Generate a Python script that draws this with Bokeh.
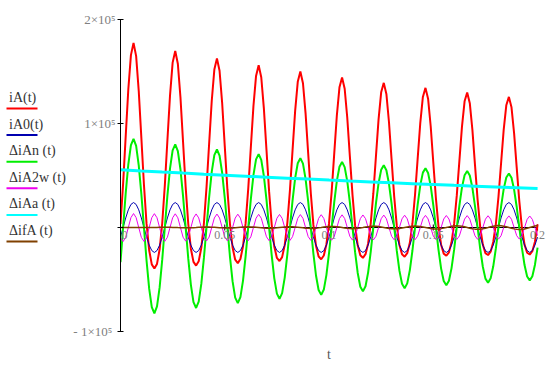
from bokeh.plotting import figure
from bokeh.models import Range1d, FixedTicker, LinearAxis
from bokeh.layouts import row
from bokeh.core.properties import value
from bokeh.embed import file_html
from bokeh.resources import INLINE

# ---------------- data (values in A) ----------------
T_STEP = 0.00125
t = [round(i * T_STEP, 5) for i in range(161)]

iA = [
    3450, 41900, 87950, 132900, 165760, 177520, 164760, 131260, 86270, 40820, 3470, -21860, -35460, -39450, -35000, -21200,
    3810, 40220, 84090, 127060, 158550, 169770, 157460, 125250, 82150, 38780, 3370, -20410, -33020, -36640, -32460, -19540,
    4050, 38620, 80500, 121670, 151870, 162610, 150710, 119690, 78300, 36830, 3170, -19230, -30960, -34240, -30280, -18140,
    4170, 37100, 77190, 116700, 145730, 156020, 144470, 114530, 74700, 34940, 2860, -18300, -29250, -32230, -28460, -16980,
    4210, 35660, 74100, 112110, 140070, 149930, 138720, 109770, 71350, 33140, 2480, -17600, -27840, -30550, -26940, -16050,
    4160, 34290, 71270, 107880, 134820, 144290, 133380, 105330, 68200, 31400, 2010, -17080, -26710, -29160, -25670, -15290,
    4040, 32980, 68620, 103960, 129980, 139080, 128410, 101210, 65260, 29740, 1500, -16730, -25810, -28040, -24650, -14690,
    3870, 31760, 66160, 100350, 125510, 134250, 123830, 97370, 62510, 28140, 910, -16540, -25130, -27170, -23860, -14270,
    3640, 30580, 63890, 97000, 121350, 129760, 119580, 93810, 59920, 26600, 310, -16450, -24620, -26490, -23210, -13930,
    3380, 29480, 61770, 93890, 117500, 125600, 115600, 90480, 57500, 25130, -340, -16510, -24300, -25990, -22740, -13710,
    3100,
]

iA0 = [
    -9180, 0, 9180, 16970, 22170, 24000, 22170, 16970, 9180, 0, -9180, -16970, -22170, -24000, -22170, -16970,
    -9180, 0, 9180, 16970, 22170, 24000, 22170, 16970, 9180, 0, -9180, -16970, -22170, -24000, -22170, -16970,
    -9180, 0, 9180, 16970, 22170, 24000, 22170, 16970, 9180, 0, -9180, -16970, -22170, -24000, -22170, -16970,
    -9180, 0, 9180, 16970, 22170, 24000, 22170, 16970, 9180, 0, -9180, -16970, -22170, -24000, -22170, -16970,
    -9180, 0, 9180, 16970, 22170, 24000, 22170, 16970, 9180, 0, -9180, -16970, -22170, -24000, -22170, -16970,
    -9180, 0, 9180, 16970, 22170, 24000, 22170, 16970, 9180, 0, -9180, -16970, -22170, -24000, -22170, -16970,
    -9180, 0, 9180, 16970, 22170, 24000, 22170, 16970, 9180, 0, -9180, -16970, -22170, -24000, -22170, -16970,
    -9180, 0, 9180, 16970, 22170, 24000, 22170, 16970, 9180, 0, -9180, -16970, -22170, -24000, -22170, -16970,
    -9180, 0, 9180, 16970, 22170, 24000, 22170, 16970, 9180, 0, -9180, -16970, -22170, -24000, -22170, -16970,
    -9180, 0, 9180, 16970, 22170, 24000, 22170, 16970, 9180, 0, -9180, -16970, -22170, -24000, -22170, -16970,
    -9180,
]

d_iAn = [
    -33320, 0, 33040, 60800, 79110, 85270, 78450, 59790, 32220, 0, -31960, -58820, -76540, -82510, -75920, -57860,
    -31190, 0, 30940, 56940, 74100, 79880, 73500, 56020, 30200, 0, -29960, -55150, -71770, -77380, -71200, -54280,
    -29260, 0, 29040, 53450, 69570, 75000, 69020, 52620, 28370, 0, -28160, -51830, -67470, -72750, -66960, -51050,
    -27520, 0, 27320, 50300, 65480, 70610, 64990, 49550, 26720, 0, -26530, -48840, -63580, -68570, -63120, -48130,
    -25950, 0, 25770, 47450, 61790, 66640, 61350, 46790, 25230, 0, -25060, -46150, -60080, -64810, -59670, -45510,
    -24540, 0, 24380, 44890, 58460, 63060, 58070, 44290, 23890, 0, -23730, -43710, -56920, -61400, -56540, -43130,
    -23260, 0, 23120, 42570, 55450, 59830, 55090, 42030, 22670, 0, -22530, -41510, -54060, -58330, -53730, -40980,
    -22110, 0, 21980, 40490, 52750, 56910, 52420, 39990, 21580, 0, -21450, -39530, -51490, -55570, -51180, -39060,
    -21080, 0, 20960, 38610, 50300, 54280, 50010, 38160, 20590, 0, -20480, -37730, -49160, -53070, -48890, -37310,
    -20140, 0, 20030, 36910, 48090, 51910, 47830, 36510, 19710, 0, -19600, -36130, -47070, -50820, -46820, -35740,
    -19290,
]

d_iA2w = [
    -9550, -13480, -9520, 0, 9500, 13420, 9480, 0, -9460, -13360, -9430, 0, 9410, 13300, 9390, 0,
    -9370, -13230, -9350, 0, 9330, 13170, 9310, 0, -9280, -13110, -9260, 0, 9230, 13050, 9210, 0,
    -9190, -12980, -9170, 0, 9150, 12920, 9130, 0, -9110, -12860, -9080, 0, 9060, 12800, 9040, 0,
    -9020, -12730, -8990, 0, 8970, 12670, 8950, 0, -8930, -12610, -8900, 0, 8880, 12550, 8860, 0,
    -8840, -12480, -8820, 0, 8800, 12420, 8780, 0, -8750, -12360, -8730, 0, 8700, 12300, 8680, 0,
    -8660, -12230, -8640, 0, 8620, 12170, 8600, 0, -8580, -12110, -8550, 0, 8530, 12050, 8510, 0,
    -8490, -11980, -8460, 0, 8440, 11920, 8420, 0, -8400, -11860, -8370, 0, 8350, 11800, 8330, 0,
    -8310, -11730, -8290, 0, 8270, 11670, 8240, 0, -8220, -11610, -8200, 0, 8170, 11550, 8150, 0,
    -8130, -11480, -8110, 0, 8090, 11420, 8070, 0, -8050, -11360, -8020, 0, 8000, 11300, 7980, 0,
    -7950, -11230, -7930, 0, 7910, 11170, 7890, 0, -7870, -11110, -7840, 0, 7820, 11050, 7800, 0,
    -7780,
]

t_aperiodic = [0.0, 0.01, 0.02, 0.03, 0.04, 0.05, 0.06, 0.07, 0.08, 0.09, 0.10,
               0.11, 0.12, 0.13, 0.14, 0.15, 0.16, 0.17, 0.18, 0.19, 0.20]
d_iAa = [55500, 54420, 53370, 52330, 51310, 50320, 49340, 48380, 47440, 46520, 45620,
         44730, 43860, 43010, 42180, 41360, 40550, 39770, 38990, 38240, 37500]

d_ifA = [
    0, 10, 20, 30, 20, 0, -30, -60, -90, -110, -120, -100, -60, 0, 70, 130,
    180, 210, 210, 170, 100, 0, -110, -200, -280, -310, -300, -240, -130, 0, 140, 270,
    370, 410, 390, 310, 170, 0, -180, -340, -460, -510, -490, -380, -210, 0, 220, 420,
    550, 610, 580, 450, 250, 0, -260, -490, -650, -710, -670, -520, -290, 0, 300, 560,
    740, 810, 760, 590, 330, 0, -330, -630, -830, -910, -850, -660, -360, 0, 370, 700,
    920, 1010, 950, 730, 400, 0, -410, -770, -1020, -1110, -1040, -800, -440, 0, 450, 840,
    1110, 1210, 1130, 880, 480, 0, -490, -910, -1200, -1310, -1220, -950, -520, 0, 530, 980,
    1290, 1410, 1320, 1020, 550, 0, -560, -1050, -1390, -1510, -1410, -1090, -590, 0, 600, 1120,
    1480, 1610, 1500, 1160, 630, 0, -640, -1190, -1570, -1710, -1590, -1230, -670, 0, 680, 1260,
    1660, 1810, 1690, 1300, 710, 0, -720, -1330, -1760, -1910, -1780, -1370, -750, 0, 760, 1410,
    1850,
]

x_ticks = [0.0, 0.05, 0.1, 0.15, 0.2]
x_tick_labels = ["0", "0.05", "0.1", "0.15", "0.2"]
y_ticks = [-100000, 0, 100000, 200000]
y_tick_labels = ["-  1\u00d710\u2075", "", "1\u00d710\u2075", "2\u00d710\u2075"]
x_title = "t"

legend_labels = ["iA(t)", "iA0(t)", "\u0394iAn (t)", "\u0394iA2w (t)", "\u0394iAa (t)", "\u0394ifA (t)"]
colors = ["#FF0000", "#0000B0", "#00EE00", "#EE00EE", "#00FFFF", "#804000"]
widths = [2, 1, 2, 1, 3, 1.5]

FONT = "Liberation Serif"
SERIF = value(FONT)

# ---------------- main plot ----------------
p = figure(width=482, height=363,
           x_range=Range1d(0, 0.20716), y_range=Range1d(-130769, 218269),
           x_axis_type=None, y_axis_type=None,
           output_backend="svg", toolbar_location=None,
           min_border_left=48, min_border_right=0, min_border_top=0, min_border_bottom=0)
p.outline_line_color = None
p.background_fill_color = "white"
p.border_fill_color = "white"

yaxis = LinearAxis(ticker=FixedTicker(ticks=y_ticks), bounds=(y_ticks[0], y_ticks[-1]))
yaxis.major_label_overrides = {tk: lb for tk, lb in zip(y_ticks, y_tick_labels)}
yaxis.minor_tick_line_color = None
yaxis.major_tick_in = 3
yaxis.major_tick_out = 3
yaxis.axis_line_color = "black"
yaxis.major_tick_line_color = "black"
yaxis.major_label_standoff = 2
yaxis.major_label_text_font = FONT
yaxis.major_label_text_font_size = "13px"
yaxis.major_label_text_color = "#808080"
p.add_layout(yaxis, "left")

# x axis through zero
p.line(x=[x_ticks[0], x_ticks[-1]], y=[0, 0], line_color="black", line_width=1)
p.scatter(x=x_ticks[1:], y=[0] * (len(x_ticks) - 1), marker="dash", angle=1.5708,
          size=6, line_color="black")

series = [(t, iA), (t, iA0), (t, d_iAn), (t, d_iA2w), (t_aperiodic, d_iAa), (t, d_ifA)]
for (xs, ys), c, w in zip(series, colors, widths):
    p.line(x=xs, y=ys, line_color=c, line_width=w)

p.text(x=x_ticks[1:], y=[0] * (len(x_ticks) - 1), text=x_tick_labels[1:],
       text_align="center", text_baseline="top", y_offset=3,
       text_font=SERIF, text_font_size="12px", text_color="#808080")
p.text(x=[x_ticks[0]], y=[0], text=[x_tick_labels[0]],
       text_align="left", text_baseline="top", x_offset=1, y_offset=3,
       text_font=SERIF, text_font_size="12px", text_color="#808080")
p.text(x=[x_ticks[2]], y=[-125000], text=[x_title], text_align="center",
       text_baseline="middle", y_offset=-3, text_font=SERIF, text_font_size="14px",
       text_color="#555555")

# ---------------- legend panel ----------------
leg = figure(width=70, height=363, x_range=Range1d(0, 70), y_range=Range1d(363, 0),
             x_axis_type=None, y_axis_type=None,
             output_backend="svg", toolbar_location=None, min_border=0)
leg.outline_line_color = None
TEXT_Y0, STEP, LINE_DY = 97, 26.6, 11
ty = [TEXT_Y0 + STEP * i for i in range(len(legend_labels))]
ly = [v + LINE_DY for v in ty]
leg.text(x=[8.5] * len(legend_labels), y=ty, text=legend_labels, text_align="left",
         text_baseline="middle", text_font=SERIF, text_font_size="14px", text_color="#333333")
for yy, c in zip(ly, colors):
    leg.line(x=[6, 37], y=[yy, yy], line_color=c, line_width=2)

layout = row(leg, p)
open("out.html", "w").write(file_html(layout, INLINE))
